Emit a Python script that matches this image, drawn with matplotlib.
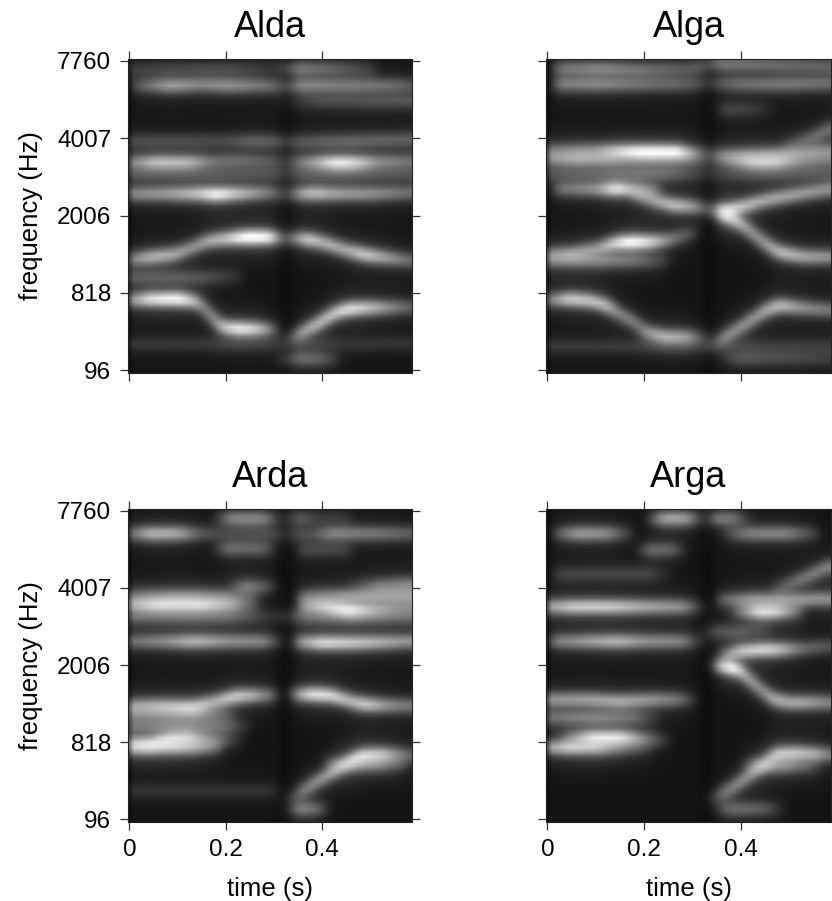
import numpy as np
import matplotlib
matplotlib.use("Agg")
import matplotlib.pyplot as plt

plt.rcParams['font.family'] = ['Liberation Sans', 'DejaVu Sans']

# ---------------- data ----------------
titles = ["Alda", "Alga", "Arda", "Arga"]
freq_tick_labels = ["96", "818", "2006", "4007", "7760"]
freq_tick_channels = [0, 16, 32, 48, 64]
time_ticks = [0, 0.2, 0.4]
time_tick_labels = ["0", "0.2", "0.4"]
n_channels = 65
t_max = 0.5865
closure_times = [0.327, 0.335, 0.325, 0.33]

# spectral tracks: each is a list of (time s, channel, intensity)
alda_tracks = [
    [(0.01, 59.0, 0.25), (0.08, 59.0, 0.55), (0.15, 59.2, 0.45), (0.2, 59.0, 0.5), (0.27, 59.0, 0.4),
     (0.32, 58.8, 0.3), (0.36, 59.0, 0.45), (0.45, 59.0, 0.4), (0.55, 59.0, 0.35), (0.586, 59.0, 0.25)],
    [(0.0, 62.3, 0.15), (0.2, 62.3, 0.2), (0.3, 62.5, 0.1), (0.34, 62.5, 0.4), (0.42, 62.5, 0.3), (0.5, 62.3, 0.15)],
    [(0.3, 55.8, 0.0), (0.4, 55.8, 0.2), (0.586, 55.8, 0.25)],
    [(0.0, 47.5, 0.2), (0.2, 47.5, 0.2), (0.25, 47.5, 0.3), (0.35, 47.3, 0.25), (0.45, 47.5, 0.3), (0.586, 47.8, 0.3)],
    [(0.0, 43.1, 0.4), (0.05, 43.1, 0.7), (0.12, 43.1, 0.65), (0.17, 43.3, 0.35), (0.25, 43.5, 0.3),
     (0.32, 43.2, 0.2), (0.38, 43.1, 0.5), (0.43, 43.0, 0.9), (0.47, 43.0, 0.8), (0.52, 43.2, 0.45), (0.586, 43.3, 0.35)],
    [(0.0, 40.7, 0.2), (0.586, 40.7, 0.2)],
    [(0.0, 36.6, 0.45), (0.08, 36.6, 0.55), (0.14, 36.6, 0.7), (0.18, 36.5, 0.95), (0.22, 36.6, 0.7),
     (0.28, 36.8, 0.45), (0.32, 36.6, 0.25), (0.35, 36.6, 0.5), (0.38, 36.7, 0.7), (0.43, 36.6, 0.55),
     (0.5, 36.6, 0.5), (0.586, 36.8, 0.35)],
    [(0.0, 23.0, 0.4), (0.04, 23.5, 0.65), (0.09, 24.0, 0.6), (0.13, 25.5, 0.5), (0.16, 26.8, 0.6),
     (0.2, 27.3, 0.7), (0.24, 27.6, 1.0), (0.29, 27.6, 0.95), (0.315, 27.4, 0.4), (0.345, 27.3, 0.5),
     (0.37, 27.2, 0.75), (0.4, 26.6, 0.65), (0.45, 25.0, 0.6), (0.49, 24.0, 0.75), (0.55, 23.2, 0.5),
     (0.586, 22.8, 0.35)],
    [(0.0, 19.3, 0.25), (0.15, 19.3, 0.25), (0.22, 19.5, 0.12)],
    [(0.0, 14.6, 0.5), (0.04, 14.8, 0.85), (0.1, 14.8, 0.95), (0.14, 14.2, 0.6), (0.16, 12.2, 0.5),
     (0.19, 9.0, 0.7), (0.23, 8.6, 0.9), (0.27, 8.6, 0.7), (0.3, 8.4, 0.3)],
    [(0.33, 6.5, 0.2), (0.355, 7.6, 0.55), (0.39, 9.5, 0.7), (0.43, 12.0, 0.75), (0.46, 12.8, 0.85),
     (0.5, 13.0, 0.7), (0.55, 13.1, 0.45), (0.586, 13.1, 0.3)],
    [(0.0, 5.5, 0.15), (0.586, 5.5, 0.12)],
    [(0.3, 2.4, 0.0), (0.34, 2.4, 0.35), (0.4, 2.4, 0.3), (0.45, 2.4, 0.0)],
]

alga_tracks = [
    [(0.02, 62.5, 0.35), (0.1, 62.5, 0.45), (0.2, 62.3, 0.35), (0.3, 62.5, 0.25), (0.34, 63.5, 0.4),
     (0.45, 63.3, 0.35), (0.586, 63.0, 0.3)],
    [(0.02, 59.3, 0.4), (0.1, 59.3, 0.45), (0.2, 59.3, 0.35), (0.28, 59.3, 0.3), (0.33, 59.5, 0.2),
     (0.4, 59.3, 0.35), (0.5, 59.3, 0.4), (0.586, 59.5, 0.35)],
    [(0.34, 54.0, 0.0), (0.37, 54.0, 0.2), (0.43, 54.0, 0.15), (0.48, 54.0, 0.0)],
    [(0.0, 45.5, 0.35), (0.1, 45.5, 0.45), (0.16, 45.3, 0.85), (0.2, 45.2, 1.0), (0.27, 45.2, 0.95),
     (0.3, 45.0, 0.5), (0.33, 45.0, 0.25), (0.36, 44.5, 0.4), (0.42, 44.5, 0.5), (0.5, 44.8, 0.5),
     (0.586, 45.5, 0.45)],
    [(0.0, 43.8, 0.4), (0.05, 43.8, 0.55), (0.12, 43.8, 0.5), (0.17, 43.6, 0.3), (0.36, 43.5, 0.2),
     (0.43, 43.1, 0.7), (0.47, 43.1, 0.7), (0.53, 43.3, 0.35), (0.586, 43.5, 0.3)],
    [(0.5, 46.5, 0.15), (0.56, 48.5, 0.35), (0.586, 50.0, 0.35)],
    [(0.0, 40.7, 0.2), (0.25, 40.7, 0.3), (0.3, 40.7, 0.15), (0.586, 40.7, 0.2)],
    [(0.02, 37.6, 0.35), (0.1, 37.6, 0.5), (0.14, 37.6, 0.9), (0.18, 37.5, 0.55), (0.22, 37.2, 0.35)],
    [(0.18, 36.5, 0.4), (0.22, 35.2, 0.55), (0.26, 34.2, 0.7), (0.3, 34.0, 0.55), (0.33, 33.5, 0.35),
     (0.35, 33.0, 0.6), (0.37, 32.8, 0.9), (0.4, 33.8, 0.7), (0.45, 35.2, 0.6), (0.52, 36.5, 0.55),
     (0.586, 37.5, 0.5)],
    [(0.36, 32.6, 0.7), (0.38, 31.8, 0.85), (0.41, 29.8, 0.6), (0.44, 27.3, 0.55), (0.48, 24.5, 0.7),
     (0.53, 23.6, 0.6), (0.586, 23.5, 0.5)],
    [(0.0, 24.0, 0.4), (0.05, 24.2, 0.55), (0.1, 25.2, 0.5), (0.14, 26.4, 0.8), (0.17, 26.6, 1.0),
     (0.21, 26.6, 0.8), (0.25, 27.0, 0.45), (0.3, 28.5, 0.2)],
    [(0.0, 22.8, 0.35), (0.1, 22.8, 0.45), (0.18, 22.8, 0.35), (0.24, 22.6, 0.15)],
    [(0.0, 14.6, 0.4), (0.04, 14.8, 0.75), (0.09, 14.4, 0.7), (0.12, 13.5, 0.7), (0.15, 11.5, 0.45),
     (0.18, 10.0, 0.45), (0.2, 8.0, 0.5), (0.24, 7.0, 0.65), (0.29, 6.9, 0.55), (0.32, 6.9, 0.2)],
    [(0.34, 5.5, 0.2), (0.37, 7.0, 0.5), (0.41, 9.5, 0.55), (0.45, 12.2, 0.6), (0.48, 13.5, 0.7),
     (0.53, 13.0, 0.5), (0.586, 12.5, 0.4)],
    [(0.0, 5.0, 0.15), (0.586, 5.0, 0.15)],
    [(0.35, 2.5, 0.0), (0.4, 2.5, 0.25), (0.5, 2.5, 0.2), (0.586, 2.5, 0.15)],
]

arda_tracks = [
    [(0.17, 62.5, 0.0), (0.21, 62.5, 0.45), (0.28, 62.5, 0.45), (0.31, 62.5, 0.1), (0.35, 62.5, 0.3),
     (0.39, 62.5, 0.15), (0.45, 62.5, 0.1)],
    [(0.0, 59.4, 0.35), (0.04, 59.4, 0.65), (0.1, 59.4, 0.6), (0.14, 59.4, 0.3), (0.2, 59.4, 0.15),
     (0.38, 59.2, 0.2), (0.42, 59.4, 0.45), (0.52, 59.4, 0.4), (0.586, 59.4, 0.3)],
    [(0.17, 56.3, 0.0), (0.2, 56.3, 0.35), (0.28, 56.3, 0.3), (0.31, 56.3, 0.0)],
    [(0.36, 56.0, 0.2), (0.45, 56.0, 0.15)],
    [(0.2, 48.4, 0.0), (0.24, 48.4, 0.4), (0.29, 48.4, 0.25), (0.31, 48.4, 0.0)],
    [(0.45, 48.5, 0.0), (0.52, 48.5, 0.35), (0.586, 48.8, 0.4)],
    [(0.0, 46.3, 0.3), (0.1, 46.3, 0.45), (0.2, 46.3, 0.35), (0.25, 46.3, 0.15)],
    [(0.36, 46.3, 0.3), (0.45, 46.3, 0.5), (0.586, 46.5, 0.5)],
    [(0.0, 44.6, 0.55), (0.05, 44.6, 0.8), (0.15, 44.6, 0.8), (0.21, 44.6, 0.55), (0.25, 44.6, 0.2)],
    [(0.36, 44.5, 0.45), (0.4, 44.3, 0.7), (0.46, 43.5, 0.9), (0.5, 43.6, 0.6), (0.55, 44.0, 0.4),
     (0.586, 44.2, 0.35)],
    [(0.0, 42.2, 0.3), (0.2, 42.2, 0.3), (0.3, 42.2, 0.1), (0.36, 42.2, 0.3), (0.586, 42.2, 0.3)],
    [(0.0, 37.0, 0.35), (0.08, 37.0, 0.5), (0.13, 37.0, 0.65), (0.2, 37.0, 0.5), (0.28, 37.0, 0.45),
     (0.31, 37.0, 0.15)],
    [(0.355, 36.8, 0.5), (0.4, 36.7, 0.8), (0.48, 36.7, 0.7), (0.586, 37.0, 0.5)],
    [(0.0, 23.6, 0.5), (0.05, 23.6, 0.6), (0.13, 23.3, 0.75), (0.17, 24.3, 0.6), (0.22, 25.6, 0.75),
     (0.26, 25.8, 0.6), (0.3, 25.8, 0.3)],
    [(0.35, 26.0, 0.5), (0.38, 26.0, 0.85), (0.42, 25.8, 0.8), (0.46, 24.6, 0.65), (0.49, 23.9, 0.75),
     (0.54, 23.7, 0.5), (0.586, 23.6, 0.4)],
    [(0.0, 22.0, 0.35), (0.15, 22.0, 0.4), (0.2, 21.8, 0.2)],
    [(0.0, 19.4, 0.3), (0.1, 19.4, 0.35), (0.2, 19.4, 0.3), (0.24, 19.4, 0.1)],
    [(0.0, 15.6, 0.6), (0.04, 15.6, 0.75), (0.07, 16.6, 0.8), (0.12, 17.0, 0.75), (0.15, 16.8, 0.45),
     (0.19, 16.5, 0.3), (0.22, 16.5, 0.1)],
    [(0.0, 15.0, 0.5), (0.08, 15.1, 0.7), (0.13, 15.1, 0.6), (0.18, 15.1, 0.3)],
    [(0.34, 4.5, 0.2), (0.36, 5.8, 0.45), (0.4, 8.5, 0.55), (0.44, 10.8, 0.65), (0.48, 13.2, 0.85),
     (0.53, 13.5, 0.7), (0.56, 13.5, 0.45), (0.586, 13.4, 0.3)],
    [(0.42, 11.5, 0.3), (0.47, 11.5, 0.5), (0.53, 11.5, 0.4), (0.57, 11.5, 0.2)],
    [(0.32, 2.2, 0.0), (0.35, 2.2, 0.45), (0.39, 2.2, 0.35), (0.42, 2.2, 0.0)],
    [(0.0, 6.0, 0.12), (0.3, 6.0, 0.12)],
]

arga_tracks = [
    [(0.2, 62.5, 0.0), (0.24, 62.5, 0.6), (0.29, 62.5, 0.55), (0.32, 62.5, 0.15), (0.35, 62.5, 0.45),
     (0.39, 62.5, 0.35), (0.42, 62.5, 0.05)],
    [(0.02, 59.4, 0.3), (0.06, 59.4, 0.55), (0.12, 59.4, 0.5), (0.16, 59.4, 0.2)],
    [(0.38, 59.4, 0.2), (0.42, 59.4, 0.45), (0.5, 59.4, 0.45), (0.55, 59.4, 0.2)],
    [(0.18, 56.0, 0.0), (0.21, 56.0, 0.35), (0.26, 56.0, 0.3), (0.29, 56.0, 0.0)],
    [(0.02, 51.0, 0.18), (0.1, 51.0, 0.2), (0.2, 51.0, 0.2), (0.24, 51.0, 0.08)],
    [(0.48, 48.0, 0.2), (0.53, 50.0, 0.4), (0.586, 52.5, 0.45)],
    [(0.0, 44.2, 0.55), (0.05, 44.2, 0.75), (0.12, 44.2, 0.75), (0.2, 44.2, 0.6), (0.28, 44.2, 0.5),
     (0.31, 44.2, 0.2)],
    [(0.36, 45.6, 0.3), (0.42, 45.6, 0.5), (0.5, 45.6, 0.5), (0.586, 45.8, 0.5)],
    [(0.4, 43.2, 0.3), (0.44, 43.2, 0.85), (0.48, 43.2, 0.75), (0.52, 43.2, 0.3)],
    [(0.01, 37.0, 0.4), (0.08, 37.0, 0.55), (0.14, 37.0, 0.65), (0.2, 37.0, 0.5), (0.28, 37.0, 0.45),
     (0.31, 37.0, 0.15)],
    [(0.34, 39.0, 0.25), (0.4, 39.0, 0.25), (0.45, 39.5, 0.12)],
    [(0.355, 32.0, 0.6), (0.38, 31.6, 1.0), (0.4, 31.0, 0.8), (0.42, 29.0, 0.6), (0.45, 26.5, 0.55),
     (0.47, 25.0, 0.65), (0.5, 24.3, 0.6), (0.53, 24.3, 0.6), (0.586, 24.3, 0.45)],
    [(0.37, 34.0, 0.4), (0.4, 35.0, 0.7), (0.45, 35.3, 0.8), (0.48, 35.3, 0.7), (0.53, 35.5, 0.35),
     (0.586, 36.0, 0.25)],
    [(0.0, 24.9, 0.5), (0.08, 24.9, 0.55), (0.15, 24.5, 0.6), (0.22, 24.9, 0.5), (0.27, 24.9, 0.4),
     (0.3, 24.9, 0.15)],
    [(0.0, 21.2, 0.35), (0.1, 21.2, 0.4), (0.18, 21.2, 0.3), (0.22, 21.2, 0.1)],
    [(0.04, 17.0, 0.3), (0.09, 17.0, 0.85), (0.15, 17.0, 0.85), (0.2, 16.8, 0.4), (0.24, 16.5, 0.15)],
    [(0.0, 15.0, 0.55), (0.04, 15.0, 0.75), (0.1, 15.0, 0.65), (0.15, 15.0, 0.35), (0.2, 15.0, 0.15)],
    [(0.345, 4.5, 0.2), (0.37, 5.6, 0.45), (0.41, 8.5, 0.55), (0.45, 11.5, 0.6), (0.475, 13.6, 0.75),
     (0.52, 13.8, 0.7), (0.565, 13.6, 0.6), (0.586, 13.5, 0.4)],
    [(0.42, 11.2, 0.3), (0.45, 11.2, 0.5), (0.5, 11.2, 0.45), (0.55, 11.2, 0.2)],
    [(0.34, 2.2, 0.0), (0.38, 2.2, 0.35), (0.45, 2.2, 0.3), (0.5, 2.2, 0.0)],
]

panel_tracks = [alda_tracks, alga_tracks, arda_tracks, arga_tracks]


# ---------------- build spectrogram grids from tracks ----------------
def build_grid(tracks, closure, times, chans, base=0.08):
    dark = np.ones((len(chans), len(times)))
    for tr in tracks:
        tt = np.array([p[0] for p in tr])
        cc = np.array([p[1] for p in tr])
        aa = np.array([p[2] for p in tr])
        mask = (times >= tt[0] - 0.012) & (times <= tt[-1] + 0.012)
        if not mask.any():
            continue
        c = np.interp(times[mask], tt, cc)
        a = np.interp(times[mask], tt, aa)
        d = chans[:, None] - c[None, :]
        prof = 0.88 * np.exp(-0.5 * (d / 1.15) ** 2) + 0.18 * np.exp(-0.5 * (d / 3.0) ** 2)
        blob = np.clip(a[None, :] * prof, 0, 0.999)
        dark[:, mask] *= (1 - blob)
    grid = base + (1 - base) * (1 - dark)
    # temporal smoothing
    k = np.array([1, 2, 3, 2, 1], float)
    k /= k.sum()
    sm = np.apply_along_axis(lambda r: np.convolve(np.pad(r, 2, mode='edge'), k, mode='valid'), 1, grid)
    # softly darker stop closure and onset column
    sm *= (1 - 0.3 * np.exp(-0.5 * ((times - closure) / 0.014) ** 2))[None, :]
    sm[:, 0] *= 0.6
    return np.clip(sm, 0, 1)


times = np.linspace(-0.003, t_max, 70)
chans = np.arange(n_channels, dtype=float)

# ---------------- figure ----------------
fig = plt.figure(figsize=(8.32, 9.01), dpi=100)
W, H = 832.0, 901.0
boxes = [
    (128, 59, 412, 373),
    (546, 59, 831, 373),
    (128, 509, 412, 822),
    (546, 509, 831, 822),
]

for i, (x0, y0, x1, y1) in enumerate(boxes):
    ax = fig.add_axes([x0 / W, 1 - y1 / H, (x1 - x0) / W, (y1 - y0) / H])
    grid = build_grid(panel_tracks[i], closure_times[i], times, chans)
    ax.imshow(grid, origin='lower', aspect='auto', cmap='gray', vmin=0, vmax=1,
              extent=[-0.003, t_max, -0.6, 64.4], interpolation='bilinear')
    ax.set_xlim(-0.003, t_max)
    ax.set_ylim(-0.6, 64.4)
    ax.set_xticks(time_ticks)
    ax.set_xticklabels(time_tick_labels)
    ax.set_yticks(freq_tick_channels)
    ax.set_yticklabels(freq_tick_labels)
    left = i % 2 == 0
    bottom = i >= 2
    ax.tick_params(direction='out', length=6, width=0.9, color='#333333',
                   top=True, right=True, labeltop=False, labelright=False,
                   labelleft=left, labelbottom=bottom, labelsize=17.5, pad=6)
    for s in ax.spines.values():
        s.set_linewidth(0.8)
        s.set_color('#222222')
    ax.text(0.5, 1.07, titles[i], transform=ax.transAxes, ha='center', va='baseline', fontsize=26)
    if left:
        ax.set_ylabel("frequency (Hz)", fontsize=18.5)
        ax.yaxis.set_label_coords(-0.30, 0.5)
    if bottom:
        ax.set_xlabel("time (s)", fontsize=18.5)
        ax.xaxis.set_label_coords(0.5, -0.175)

fig.savefig("out.png", dpi=100)
